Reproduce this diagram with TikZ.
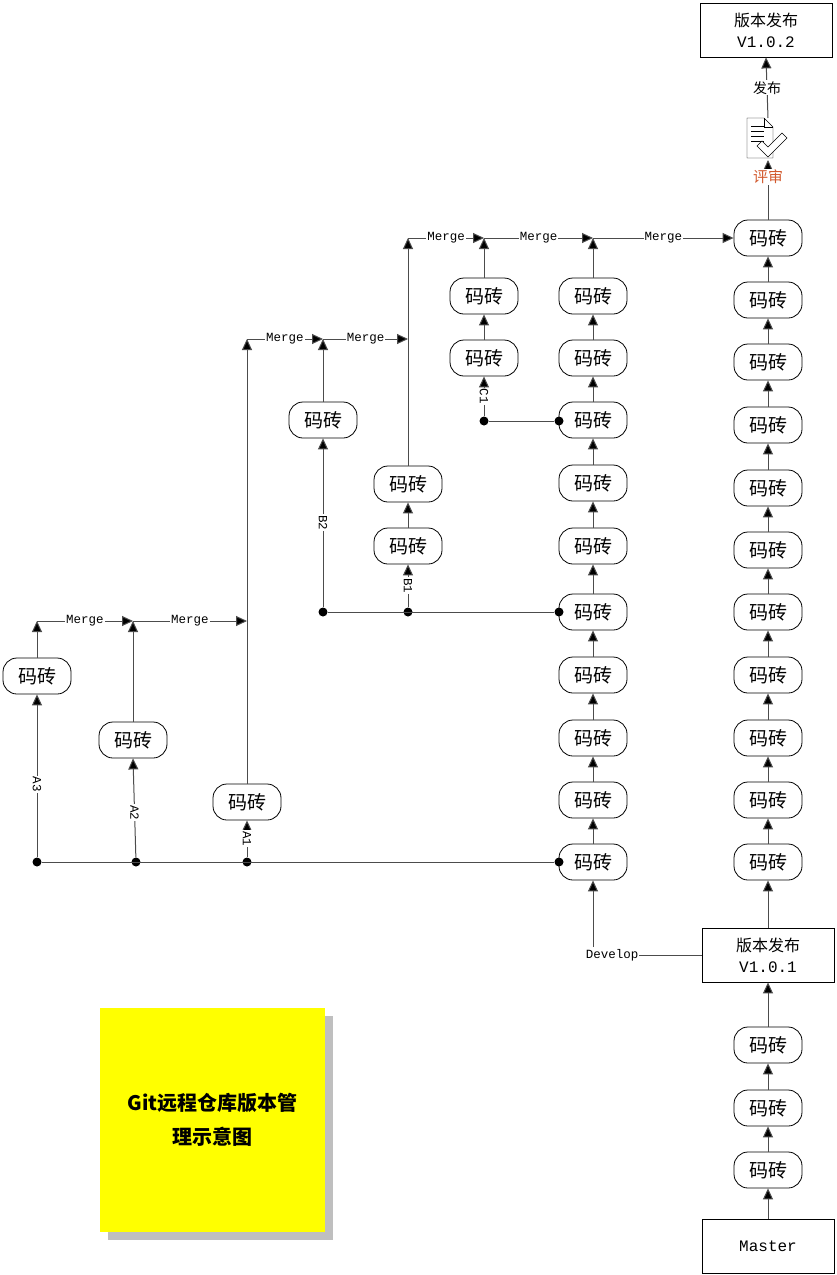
\documentclass[tikz,border=0pt]{standalone}
\usepackage{fontspec}
\setmainfont{Liberation Mono}
\newfontfamily\cjk{Noto Sans CJK SC}
\usetikzlibrary{arrows.meta}
\definecolor{ylw}{RGB}{255,255,0}
\begin{document}
\begin{tikzpicture}[x=1pt,y=-1pt,
  brick/.style={draw,line width=0.8pt,rounded corners=14pt,minimum width=68pt,minimum height=36pt,inner sep=0pt,font=\cjk\fontsize{19}{19}\selectfont},
  box/.style={draw,line width=0.8pt,minimum width=132pt,minimum height=54pt,inner sep=0pt,align=center,font=\fontsize{16}{21}\selectfont},
  ar/.style={-{Triangle[length=11pt,width=10pt,fill=black]},gray!60!black,line width=1pt},
  ln/.style={gray!60!black,line width=1pt},
  lab/.style={fill=white,text=black,inner sep=1pt,font=\fontsize{12.5}{12.5}\selectfont},
  dot/.style={circle,fill=black,inner sep=0pt,minimum size=9pt}]
\useasboundingbox (0,0) rectangle (836,1275);
% master column
\foreach \i/\y in {1/238,2/300,3/362,4/425,5/488,6/550,7/612,8/675,9/738,10/800,11/862}{\node[brick] (m\i) at (768,\y) {码砖};}
\foreach \i [evaluate=\i as \j using int(\i-1)] in {2,...,11}{\draw[ar] (m\i.north) -- (m\j.south);}
\node[box] (r1) at (768,955) {{\cjk 版本发布}\\V1.0.1};
\node[box] (r2) at (766,30) {{\cjk 版本发布}\\V1.0.2};
\node[brick] (b1) at (768,1045) {码砖};
\node[brick] (b2) at (768,1108) {码砖};
\node[brick] (b3) at (768,1170) {码砖};
\node[box] (ms) at (768,1246) {Master};
\draw[ar] (ms.north) -- (b3.south);
\draw[ar] (b3.north) -- (b2.south);
\draw[ar] (b2.north) -- (b1.south);
\draw[ar] (b1.north) -- (r1.south);
\draw[ar] (r1.north) -- (m11.south);
% review icon
\draw[fill=white] (747,118) -- (764,118) -- (773,127) -- (773,158) -- (747,158) -- cycle;
\draw (764,118) -- (764,127) -- (773,127);
\foreach \yy in {126,131,136,141}{\draw (751,\yy) -- (764,\yy);}
\draw[fill=white,line width=0.6pt] (757,146) -- (762,141) -- (768,147) -- (782,133) -- (787,138) -- (768,157) -- cycle;
\draw[ar] (m1.north) -- (768,160);
\node[font=\cjk\fontsize{15}{15}\selectfont,text=brown!70!red,fill=white,inner sep=1pt] at (768,177) {评审};
\draw[ar] (768,118) -- node[lab,font=\cjk\fontsize{14}{14}\selectfont]{发布} (r2.south);
% develop column
\foreach \i/\y in {1/296,2/358,3/420,4/483,5/546,6/612,7/675,8/738,9/800,10/862}{\node[brick] (d\i) at (593,\y) {码砖};}
\foreach \i [evaluate=\i as \j using int(\i-1)] in {2,...,10}{\draw[ar] (d\i.north) -- (d\j.south);}
\node[font=\fontsize{12.5}{12.5}\selectfont,inner sep=1pt] (dev) at (612,955) {Develop};
\draw[ln] (dev.east) -- (r1.west);
\coordinate (dv) at (593,947);
\draw[ar] (dv) -- (d10.south);
% top merge line
\coordinate (t1) at (408,238); \coordinate (t2) at (484,238); \coordinate (t3) at (593,238);
\draw[ar] (t1) -- node[lab]{Merge} (t2);
\draw[ar] (t2) -- node[lab]{Merge} (t3);
\draw[ar] (t3) -- node[lab]{Merge} (m1.west);
\draw[ar] (d1.north) -- (t3);
% C branch
\node[brick] (c1) at (484,296) {码砖};
\node[brick] (c2) at (484,358) {码砖};
\draw[ar] (c1.north) -- (t2);
\draw[ar] (c2.north) -- (c1.south);
\node[dot] (cd) at (484,421) {};
\node[dot] (cd2) at (559,421) {};
\draw[ln] (cd) -- (cd2);
\draw[ar] (cd) -- node[lab,rotate=-90]{C1} (c2.south);
% B branch
\coordinate (s1) at (247,339); \coordinate (s2) at (323,339); \coordinate (s3) at (408,339);
\draw[ar] (s1) -- node[lab]{Merge} (s2);
\draw[ar] (s2) -- node[lab]{Merge} (s3);
\node[brick] (bb2) at (323,420) {码砖};
\node[brick] (bb1a) at (408,484) {码砖};
\node[brick] (bb1b) at (408,546) {码砖};
\draw[ar] (bb2.north) -- (s2);
\draw[ar] (bb1a.north) -- (t1);
\draw[ar] (bb1b.north) -- (bb1a.south);
\node[dot] (bd1) at (323,612) {};
\node[dot] (bd2) at (408,612) {};
\node[dot] (bd3) at (559,612) {};
\draw[ln] (bd1) -- (bd3);
\draw[ar] (bd1) -- node[lab,rotate=-90]{B2} (bb2.south);
\draw[ar] (bd2) -- node[lab,rotate=-90]{B1} (bb1b.south);
% A branch
\coordinate (a1) at (37,621); \coordinate (a2) at (133,621); \coordinate (a3) at (247,621);
\draw[ar] (a1) -- node[lab]{Merge} (a2);
\draw[ar] (a2) -- node[lab]{Merge} (a3);
\node[brick] (na3) at (37,676) {码砖};
\node[brick] (na2) at (133,740) {码砖};
\node[brick] (na1) at (247,802) {码砖};
\draw[ar] (na3.north) -- (a1);
\draw[ar] (na2.north) -- (a2);
\draw[ar] (na1.north) -- (s1);
\node[dot] (ad1) at (37,862) {};
\node[dot] (ad2) at (136,862) {};
\node[dot] (ad3) at (247,862) {};
\node[dot] (ad4) at (559,862) {};
\draw[ln] (ad1) -- (ad4);
\draw[ar] (ad1) -- node[lab,rotate=-90,pos=0.45]{A3} (na3.south);
\draw[ar] (ad2) -- node[lab,rotate=-90,pos=0.45]{A2} (na2.south);
\draw[ar] (ad3) -- node[lab,rotate=-90]{A1} (na1.south);
% sticky note
\fill[gray!50] (108,1016) rectangle (333,1240);
\node[fill=ylw,minimum width=225pt,minimum height=224pt,inner sep=0pt,align=center,font=\cjk\bfseries\fontsize{20}{34}\selectfont] (note) at (212.5,1120) {Git远程仓库版本管\\理示意图};
\end{tikzpicture}
\end{document}
